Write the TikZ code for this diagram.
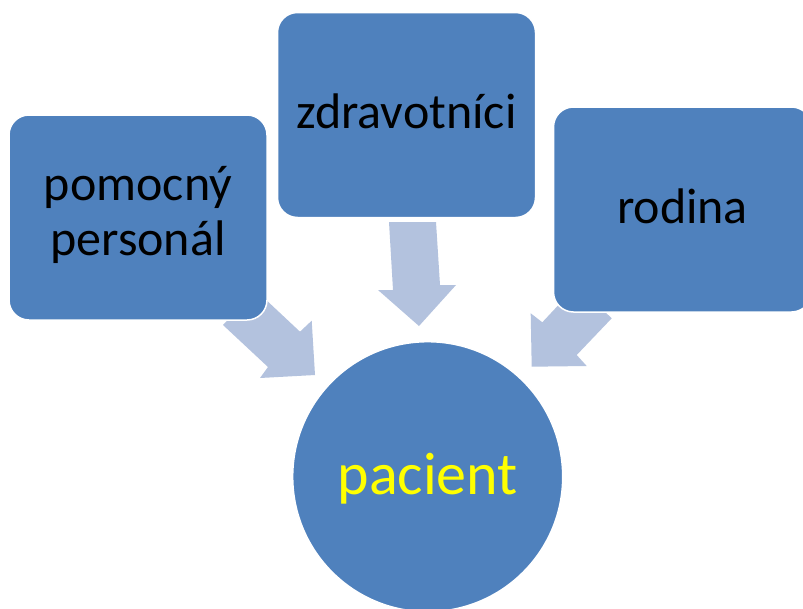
\documentclass[tikz,border=0pt]{standalone}
\usepackage{fontspec}
\setmainfont{Carlito}
\definecolor{boxblue}{RGB}{79,129,189}
\definecolor{arrowblue}{RGB}{179,194,222}
\definecolor{textyellow}{RGB}{255,255,0}
\begin{document}
\begin{tikzpicture}[x=1pt,y=-1pt,
  box/.style={rectangle, rounded corners=20pt, fill=boxblue, draw=white, line width=1.5pt,
    minimum width=258pt, minimum height=205pt, inner sep=0pt, outer sep=0pt,
    font=\fontsize{50}{55}\selectfont, text=black, align=center,
    text height=38.5pt, text depth=11.5pt},
  hub/.style={circle, fill=boxblue, draw=white, line width=1.5pt, minimum size=270pt,
    inner sep=0pt, outer sep=0pt, font=\fontsize{60}{66}\selectfont, text=textyellow,
    text height=47.4pt, text depth=12.6pt},
  blockarrow/.style={fill=arrowblue, draw=none}]
\useasboundingbox (0,0) rectangle (803,608);
\fill[white] (0,0) rectangle (803,608);
% block arrows (behind the shapes)
\fill[blockarrow] (255.6,290.1) -- (300,331.7) -- (311.7,320.7) -- (315,375) -- (260,378) -- (268,367) -- (223,325) -- cycle;
\fill[blockarrow] (389,222) -- (436,222) -- (440,285) -- (456,285) -- (419,326) -- (378,290) -- (393,290) -- cycle;
\fill[blockarrow] (577,285.2) -- (611.7,318.3) -- (576.7,355) -- (586.7,366) -- (531.7,366.7) -- (530.7,313.3) -- (542.3,322.3) -- cycle;
% shapes
\node[box, text height=90pt, text depth=15pt] (pom) at (138,217.5) {pomocný\\personál};
\node[box] (zdr) at (406.5,115) {zdravotníci};
\node[box] (rod) at (682.5,209.5) {rodina};
\node[hub] (pac) at (427.7,476.7) {pacient};
\end{tikzpicture}
\end{document}
